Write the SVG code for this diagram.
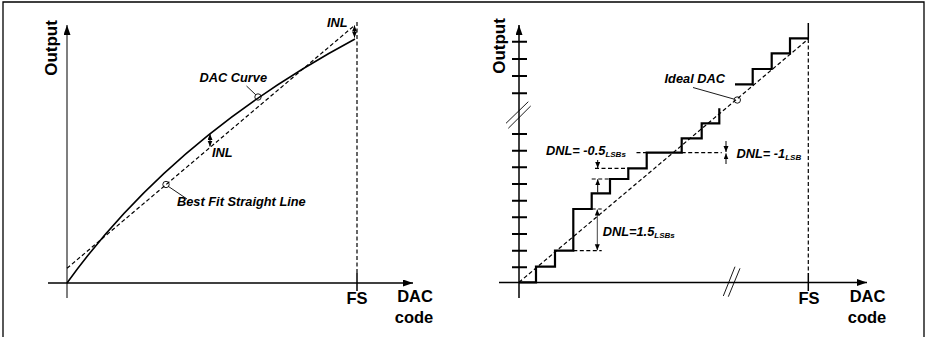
<svg xmlns="http://www.w3.org/2000/svg" width="927" height="337" viewBox="0 0 927 337">
<style>
.ax{stroke:#000;stroke-width:1.5;fill:none}
.dash{stroke:#000;stroke-width:1.2;fill:none;stroke-dasharray:4 2.5}
.stair{stroke:#000;stroke-width:2.2;fill:none;stroke-linejoin:miter}
.curve{stroke:#000;stroke-width:1.6;fill:none}
.thin{stroke:#000;stroke-width:0.9;fill:none}
.tick{stroke:#000;stroke-width:2;fill:none}
.t{font-family:"Liberation Sans",Arial,sans-serif;font-weight:bold;fill:#000}
.big{font-size:16.5px}
.it{font-style:italic;font-size:12.8px}
.sub{font-size:8px}
</style>
<defs>
<marker id="ah" markerUnits="userSpaceOnUse" markerWidth="11" markerHeight="8" refX="10" refY="3.5" orient="auto">
<path d="M0,0 L10,3.5 L0,7 z" fill="#000"/>
</marker>
<marker id="sa" markerUnits="userSpaceOnUse" markerWidth="7" markerHeight="6" refX="6" refY="2.5" orient="auto-start-reverse">
<path d="M0,0 L6,2.5 L0,5 z" fill="#000"/>
</marker>
</defs>
<g id="frame"><path d="M3,340 V2 H924 V340" fill="none" stroke="#000" stroke-width="1.3"/></g>

<g id="left-panel">
<g id="left-axes">
<line x1="67" y1="298" x2="67" y2="25" stroke="#555" stroke-width="1.5" marker-end="url(#ah)"/>
<line x1="48" y1="283" x2="413" y2="283" class="ax" marker-end="url(#ah)"/>
<line x1="357" y1="22" x2="357" y2="273" class="dash"/>
<line x1="357" y1="273" x2="357" y2="291" class="ax"/>
<text class="t" font-size="17" transform="translate(56.5,48) rotate(-90)" text-anchor="middle">Output</text>
<text class="t big" x="357" y="304" text-anchor="middle">FS</text>
<text class="t big" x="415" y="301.7" text-anchor="middle">DAC</text>
<text class="t big" x="414" y="322.5" text-anchor="middle">code</text>
</g>
<g id="dac-curve">
<path d="M67,283 Q172,137 355,39" class="curve"/>
<circle cx="258" cy="97" r="3.2" class="thin"/>
<text class="t it" x="199.5" y="81.5">DAC Curve</text>
</g>
<g id="best-fit-line">
<line x1="67" y1="268.3" x2="355" y2="25" class="dash"/>
<circle cx="166" cy="184.5" r="3.2" class="thin"/>
<text class="t it" x="177" y="206">Best Fit Straight Line</text>
</g>
<g id="inl-mid">
<text class="t it" x="212" y="156.5">INL</text>
</g>
<g id="inl-top">
<text class="t it" x="327" y="27">INL</text>
</g>
</g>

<g id="right-panel">
<g id="right-axes">
<line x1="519" y1="298" x2="519" y2="25" class="ax" marker-end="url(#ah)"/>
<line x1="499" y1="282.5" x2="867" y2="282.5" class="ax" marker-end="url(#ah)"/>
<path class="tick" d="M512,41.7 H527 M512,59 H527 M512,76 H527 M512,93.3 H527 M512,134 H527 M512,150.7 H527 M512,167.3 H527 M512,184 H527 M512,200.7 H527 M512,217.3 H527 M512,234 H527 M512,250.7 H527 M512,267.3 H527"/>
<path class="thin" d="M506,123.3 L528.3,101.7 M508.3,128.3 L530.7,106"/>
<path class="thin" d="M723.3,296 L735,266.7 M728.3,296.7 L740,268.3"/>
<line x1="808.3" y1="23" x2="808.3" y2="39" class="ax"/>
<line x1="808.3" y1="39" x2="808.3" y2="273" class="dash"/>
<line x1="808.3" y1="273" x2="808.3" y2="291" class="ax"/>
<text class="t" font-size="17" transform="translate(505,46) rotate(-90)" text-anchor="middle">Output</text>
<text class="t big" x="809" y="304" text-anchor="middle">FS</text>
<text class="t big" x="867.5" y="301.7" text-anchor="middle">DAC</text>
<text class="t big" x="867" y="322.5" text-anchor="middle">code</text>
</g>
<g id="ideal-dac">
<line x1="519" y1="282.3" x2="808.3" y2="39" class="dash"/>
<circle cx="737.3" cy="100" r="3.2" class="thin"/>
<text class="t it" x="725" y="83" text-anchor="end">Ideal DAC</text>
</g>
<g id="staircase">
<path class="stair" d="M519,282.3 H536 V266.7 H555 V250.7 H573.3 V209 H591.7 V193.3 H610 V179 H628.3 V168.3 H646.7 V152.7 H681.7 V138.3 H701.7 V123.3 H719.3 V108.3"/>
<path class="stair" d="M735,84.3 H752.7 V69 H771.7 V53.3 H790 V38.3 H808.3"/>
</g>
<g id="dnl-guides">
<path class="dash" d="M573.3,250.7 H601.7 M591.7,209 H601.7 M591.7,179 H610 M595,168.3 H628.3 M636.5,152.7 H646.7 M681.7,152.7 H721.7"/>
</g>
<g id="dnl-labels">
<text class="t it" x="546" y="155" font-size="13">DNL= -0.5<tspan class="sub" dy="2">LSBs</tspan></text>
<text class="t it" x="602.7" y="236" font-size="13">DNL=1.5<tspan class="sub" dy="2">LSBs</tspan></text>
<text class="t it" x="736.5" y="157.5" font-size="13">DNL= -1<tspan class="sub" dy="2">LSB</tspan></text>
</g>
</g>

<g id="connectors">
<line x1="246.5" y1="86" x2="255.8" y2="94.8" class="thin"/>
<line x1="168.5" y1="186.5" x2="187" y2="199" class="thin"/>
<line x1="693" y1="87.5" x2="734.3" y2="99.2" class="thin"/>
<line x1="210" y1="134" x2="210" y2="146.5" stroke="#000" stroke-width="1" marker-start="url(#sa)" marker-end="url(#sa)"/>
<line x1="354.5" y1="25.5" x2="354.5" y2="37.5" stroke="#000" stroke-width="1" marker-start="url(#sa)" marker-end="url(#sa)"/>
<line x1="597.3" y1="209.5" x2="597.3" y2="250.2" stroke="#444" stroke-width="1" marker-start="url(#sa)" marker-end="url(#sa)"/>
<line x1="597.7" y1="160" x2="597.7" y2="168" stroke="#000" stroke-width="1" marker-end="url(#sa)"/>
<line x1="597.7" y1="192.5" x2="597.7" y2="179.3" stroke="#000" stroke-width="1" marker-end="url(#sa)"/>
<line x1="726" y1="141" x2="726" y2="152" stroke="#000" stroke-width="1" marker-end="url(#sa)"/>
<line x1="726" y1="164" x2="726" y2="153.4" stroke="#000" stroke-width="1" marker-end="url(#sa)"/>
</g>
</svg>
